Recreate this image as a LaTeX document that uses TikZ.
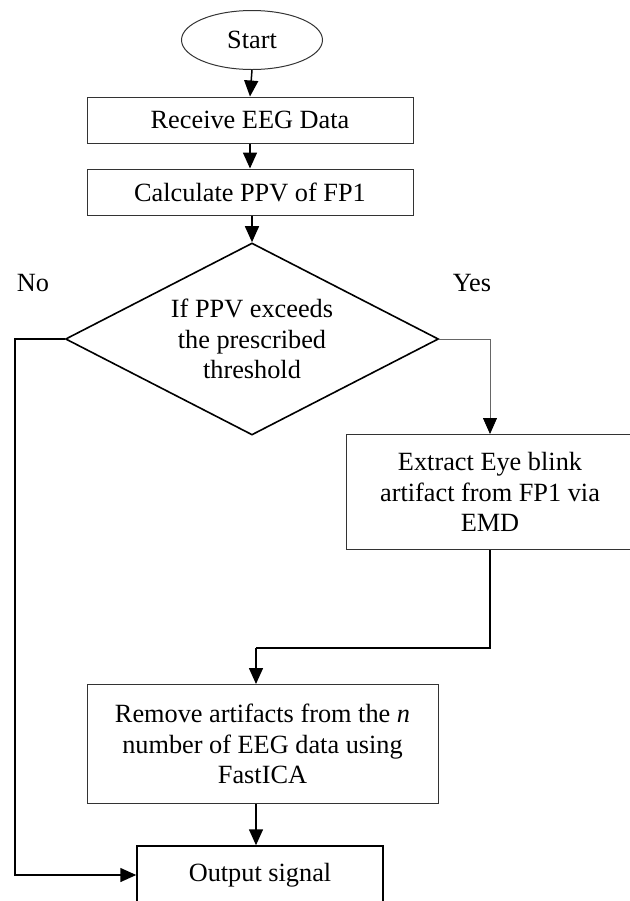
\documentclass[tikz,border=0pt]{standalone}
\usepackage{fontspec}
\setmainfont{Liberation Serif}
\usepackage{tikz}
\usetikzlibrary{shapes.geometric,arrows.meta}

\begin{document}
\begin{tikzpicture}[x=0.5pt,y=-0.5pt,
  font=\fontsize{13.15}{15.25}\selectfont,
  box/.style={draw=black!80,line width=0.5pt,rectangle,inner sep=0pt,align=center},
  arr/.style={line width=0.75pt,-{Triangle[width=7pt,length=8pt]}},
  thinarr/.style={draw=black!60,line width=0.4pt,-{Triangle[width=7pt,length=8pt,black]}}]
\useasboundingbox (0,0) rectangle (630,901);
\clip (0,0) rectangle (630,901);
  \node[draw=black!80,line width=0.5pt,ellipse,inner sep=0pt,minimum width=70.5pt,minimum height=29.5pt] (start) at (252,40) {Start};
  \node[box,minimum width=163pt,minimum height=23pt] (recv) at (250,120) {Receive EEG Data};
  \node[box,minimum width=163pt,minimum height=23pt] (calc) at (250,192) {Calculate PPV of FP1};
  \node[draw,line width=0.8pt,diamond,aspect=1.94,inner sep=0pt,minimum width=186.5pt,minimum height=96pt,align=center] (test) at (252,339) {If PPV exceeds\\the prescribed\\threshold};
  \node (no) at (33,283) {No};
  \node (yes) at (472,283) {Yes};
  \node[box,minimum width=144pt,minimum height=57.5pt] (extr) at (490,492) {Extract Eye blink\\artifact from FP1 via\\EMD};
  \node[box,minimum width=175.5pt,minimum height=59.5pt] (rmv) at (262.5,744) {Remove artifacts from the \textit{n}\\number of EEG data using\\FastICA};
  \node[box,draw=black,line width=0.75pt,minimum width=123pt,minimum height=29pt] (out) at (260,875) {Output signal};
  \coordinate (noturn) at (15,339);
  \coordinate (join) at (256,648);
  \draw[arr] (start.south) -- (recv.north);
  \draw[arr] (recv.south) -- (calc.south |- recv.south) -- (calc.north);
  \draw[arr] (test.north |- calc.south) -- (test.north);
  \draw[thinarr] (test.east) -| (extr.north);
  \draw[arr] (test.west) -- (noturn) |- (out.west);
  \draw[line width=0.75pt] (extr.south) |- (join);
  \draw[arr] (join) -- (join |- rmv.north);
  \draw[arr] (join |- rmv.south) -- (join |- out.north);
\end{tikzpicture}
\end{document}
